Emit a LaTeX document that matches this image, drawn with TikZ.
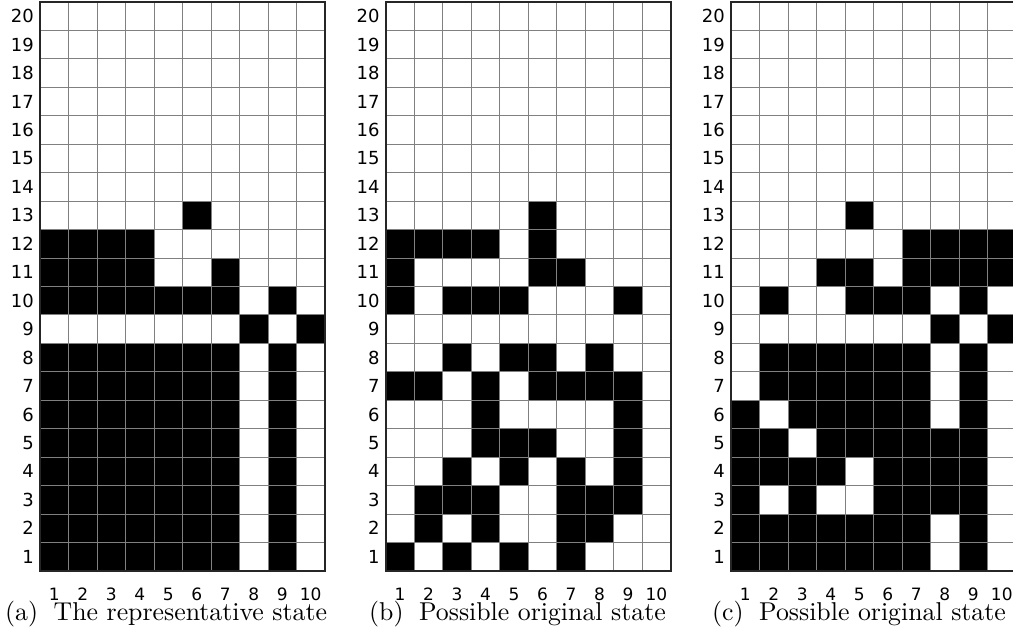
\documentclass[tikz,border=0pt]{standalone}
\usepackage{fontspec}
\newfontfamily\lblfont{DejaVu Sans}
\newfontfamily\capfont{lmroman10-regular.otf}
\newcommand\statepanel[3]{%
  \foreach \r/\cs in {#3}{\foreach \c in \cs {\fill[cellfill] (#1+\c*28.5-28.5, 2+20*28.45-\r*28.45) rectangle ++(28.5,28.45);}}
  \foreach \k in {1,...,9} \draw[gridline] (#1+\k*28.5,2) -- (#1+\k*28.5,571);
  \foreach \k in {1,...,19} \draw[gridline] (#1,2+\k*28.45) -- (#1+285,2+\k*28.45);
  \draw[frame] (#1,2) rectangle (#1+285,571);
  \foreach \k in {1,...,20} \node[rowlbl] (#2r\k) at (#1-6, 2+20*28.45-\k*28.45+14.2) {\k};
  \foreach \k in {1,...,10} \node[collbl] (#2c\k) at (#1+\k*28.5-14.25, 594) {\k};
}
\begin{document}
\begin{tikzpicture}[x=1pt,y=-1pt,
  cellfill/.style={fill=black},
  gridline/.style={draw=black!50, line width=1pt},
  frame/.style={draw=black!85, line width=1.6pt},
  rowlbl/.style={anchor=east, font=\lblfont\fontsize{18}{18}\selectfont, inner sep=0pt},
  collbl/.style={anchor=center, font=\lblfont\fontsize{17}{17}\selectfont, inner sep=0pt},
  captxt/.style={anchor=base west, font=\capfont\fontsize{25.8}{25.8}\selectfont, inner sep=0pt}]
\useasboundingbox (0,0) rectangle (1013,634);
\fill[white] (0,0) rectangle (1013,634);
\begin{scope}
\clip (0,0) rectangle (1013,634);
\statepanel{40}{a}{13/{6}, 12/{1,2,3,4}, 11/{1,2,3,4,7}, 10/{1,2,3,4,5,6,7,9}, 9/{8,10},
  8/{1,2,3,4,5,6,7,9}, 7/{1,2,3,4,5,6,7,9}, 6/{1,2,3,4,5,6,7,9}, 5/{1,2,3,4,5,6,7,9},
  4/{1,2,3,4,5,6,7,9}, 3/{1,2,3,4,5,6,7,9}, 2/{1,2,3,4,5,6,7,9}, 1/{1,2,3,4,5,6,7,9}}
\statepanel{385.7}{b}{13/{6}, 12/{1,2,3,4,6}, 11/{1,6,7}, 10/{1,3,4,5,9}, 8/{3,5,6,8},
  7/{1,2,4,6,7,8,9}, 6/{4,9}, 5/{4,5,6,9}, 4/{3,5,7,9}, 3/{2,3,4,7,8,9}, 2/{2,4,7,8}, 1/{1,3,5,7}}
\statepanel{731}{c}{13/{5}, 12/{7,8,9,10}, 11/{4,5,7,8,9,10}, 10/{2,5,6,7,9}, 9/{8,10},
  8/{2,3,4,5,6,7,9}, 7/{2,3,4,5,6,7,9}, 6/{1,3,4,5,6,7,9}, 5/{1,2,4,5,6,7,8,9},
  4/{1,2,3,4,6,7,8,9}, 3/{1,3,6,7,8,9}, 2/{1,2,3,4,5,6,7,9}, 1/{1,2,3,4,5,6,7,9}}
\end{scope}
\node[captxt] (capa) at (5,620) {(a)\hspace{0.6em}The representative state};
\node[captxt] (capb) at (369,620) {(b)\hspace{0.6em}Possible original state};
\node[captxt] (capc) at (712,620) {(c)\hspace{0.6em}Possible original state};
\end{tikzpicture}
\end{document}
